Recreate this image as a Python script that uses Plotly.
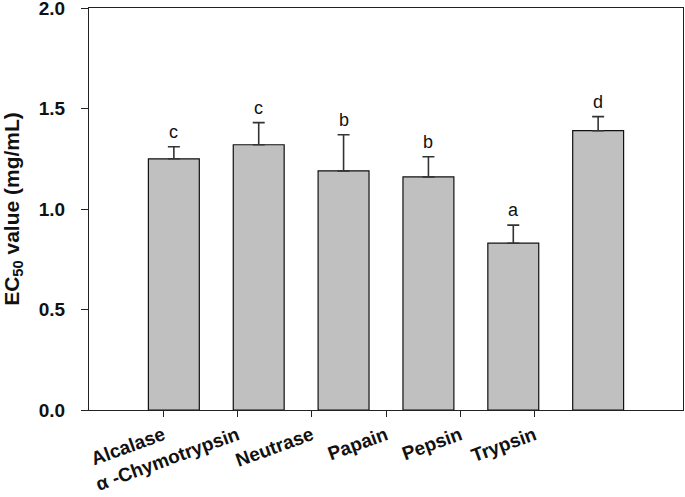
import plotly.graph_objects as go

categories = ["Alcalase", "α -Chymotrypsin", "Neutrase", "Papain", "Pepsin", "Trypsin"]
ec50 = [1.25, 1.32, 1.19, 1.16, 0.83, 1.39]
err = [0.06, 0.11, 0.18, 0.10, 0.09, 0.07]
letters = ["c", "c", "b", "b", "a", "d"]
y_ticks = [0.0, 0.5, 1.0, 1.5, 2.0]

FONT = "Liberation Sans, Arial, sans-serif"

fig = go.Figure()
fig.add_trace(go.Bar(
    x=categories, y=ec50, width=0.6,
    marker=dict(color="#c0c0c0", line=dict(color="#111111", width=1.2)),
    error_y=dict(type="data", array=err, arrayminus=[0] * len(err), symmetric=False,
                 color="#333333", thickness=1.6, width=6),
    xaxis="x", yaxis="y", showlegend=False, hoverinfo="skip",
))
# invisible trace to carry the (offset) category tick labels
fig.add_trace(go.Scatter(
    x=categories, y=ec50, mode="markers", marker=dict(opacity=0),
    xaxis="x2", yaxis="y", showlegend=False, hoverinfo="skip",
))

for c, v, e, t in zip(categories, ec50, err, letters):
    fig.add_annotation(x=c, y=v + e, xref="x", yref="y", text=t, showarrow=False,
                       yanchor="bottom", yshift=3,
                       font=dict(family=FONT, size=18, color="#111111"))

fig.update_layout(
    width=685, height=497,
    margin=dict(l=89, r=2, t=8, b=87),
    plot_bgcolor="white", paper_bgcolor="white",
    xaxis=dict(type="category", range=[-1, 6], showline=True, mirror=True,
               linecolor="#222222", linewidth=1.2, showticklabels=False, ticks="",
               showgrid=False, zeroline=False, automargin=False),
    xaxis2=dict(type="category", range=[-1, 7], overlaying="x", anchor="y", side="bottom",
                showline=False, showgrid=False, zeroline=False, ticks="outside",
                ticklen=6, tickwidth=1.2, tickcolor="#222222", tickangle=-20,
                automargin=False, ticklabeloverflow="allow",
                tickfont=dict(family=FONT, size=19, color="#111111", weight="bold")),
    yaxis=dict(range=[0, 2.0005], tickvals=y_ticks, tickformat=".1f", showline=True, mirror=True,
               linecolor="#222222", linewidth=1.2, ticks="outside", ticklen=7,
               tickwidth=1.2, tickcolor="#222222", showgrid=False, zeroline=False,
               ticklabelstandoff=12, automargin=False, ticklabeloverflow="allow",
               tickfont=dict(family=FONT, size=19, color="#111111", weight="bold"),
               title=dict(text="EC<sub>50</sub> value (mg/mL)", standoff=21,
                          font=dict(family=FONT, size=21, color="#111111", weight="bold"))),
)

fig.write_html("out.html", config={"displayModeBar": False},
               post_script="document.body.style.margin='0';")
